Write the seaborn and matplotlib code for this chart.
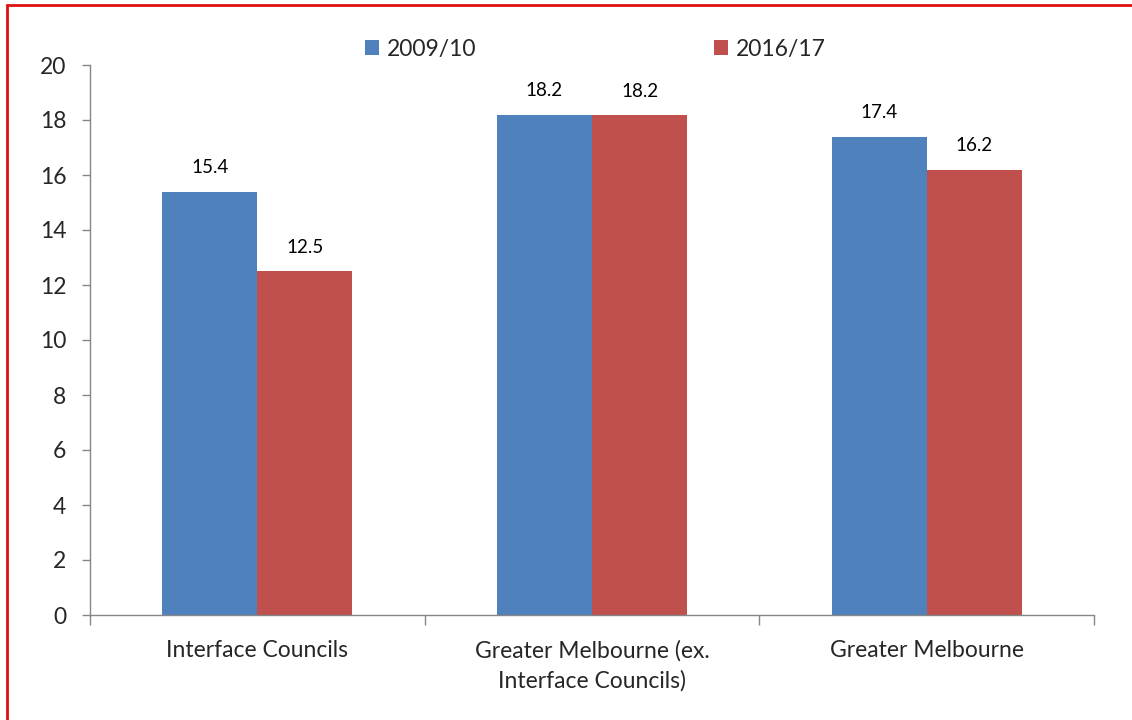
import matplotlib
matplotlib.use("Agg")
import matplotlib.pyplot as plt
from matplotlib.lines import Line2D
from matplotlib.ticker import FixedLocator
import seaborn as sns
import pandas as pd

categories = ["Interface Councils", "Greater Melbourne (ex.\nInterface Councils)", "Greater Melbourne"]
periods = ["2009/10", "2016/17"]
values_2009 = [15.4, 18.2, 17.4]
values_2016 = [12.5, 18.17, 16.2]
yticks = [0, 2, 4, 6, 8, 10, 12, 14, 16, 18, 20]

colors = {"2009/10": "#4F81BD", "2016/17": "#C0504D"}

df = pd.DataFrame({
    "category": categories * 2,
    "period": [periods[0]] * 3 + [periods[1]] * 3,
    "value": values_2009 + values_2016,
})

sns.set_style("white")
plt.rcParams["font.family"] = ["Lato", "DejaVu Sans"]

fig = plt.figure(figsize=(11.32, 7.2), dpi=100)
ax = fig.add_axes([90 / 1132, 1 - 615 / 720, (1094 - 90) / 1132, (615 - 65) / 720])

sns.barplot(data=df, x="category", y="value", hue="period", order=categories,
            hue_order=periods, palette=colors, width=0.568, gap=0,
            saturation=1, linewidth=0, ax=ax)

# value labels above bars
for container in ax.containers:
    ax.bar_label(container, fmt="%.1f", padding=11, fontsize=13.5, color="#000000")

ax.set_ylim(0, 20)
ax.set_xlim(-0.5, 2.5)
ax.set_yticks(yticks)
ax.set_yticklabels([str(t) for t in yticks], fontsize=16.5)

# category boundary ticks with centred labels
ax.xaxis.set_major_locator(FixedLocator([-0.5, 0.5, 1.5, 2.5]))
ax.xaxis.set_major_formatter(plt.NullFormatter())
ax.xaxis.set_minor_locator(FixedLocator([0, 1, 2]))
ax.set_xticklabels(categories, minor=True, fontsize=16.5, linespacing=1.5)
ax.tick_params(axis="x", which="major", length=7, width=1, color="#868686", direction="out", bottom=True)
ax.tick_params(axis="x", which="minor", length=0, pad=18)
ax.tick_params(axis="y", length=6, width=1, color="#868686", direction="out", left=True, pad=11)

ax.set_xlabel("")
ax.set_ylabel("")
for side in ["top", "right"]:
    ax.spines[side].set_visible(False)
for side in ["left", "bottom"]:
    ax.spines[side].set_color("#868686")
    ax.spines[side].set_linewidth(1)

leg = ax.legend(loc="center", bbox_to_anchor=(0.5035, 1.029), ncol=2, frameon=False,
                fontsize=16.5, handlelength=0.6, handleheight=0.6, handletextpad=0.35,
                columnspacing=10.4, borderaxespad=0)

# red frame around the chart area
border = "#E01010"
fig.add_artist(Line2D([7 / 1132, 7 / 1132], [0, 1 - 5 / 720], transform=fig.transFigure, color=border, lw=2))
fig.add_artist(Line2D([7 / 1132, 1], [1 - 5 / 720, 1 - 5 / 720], transform=fig.transFigure, color=border, lw=2))

fig.savefig("out.png", dpi=100, facecolor="white")
